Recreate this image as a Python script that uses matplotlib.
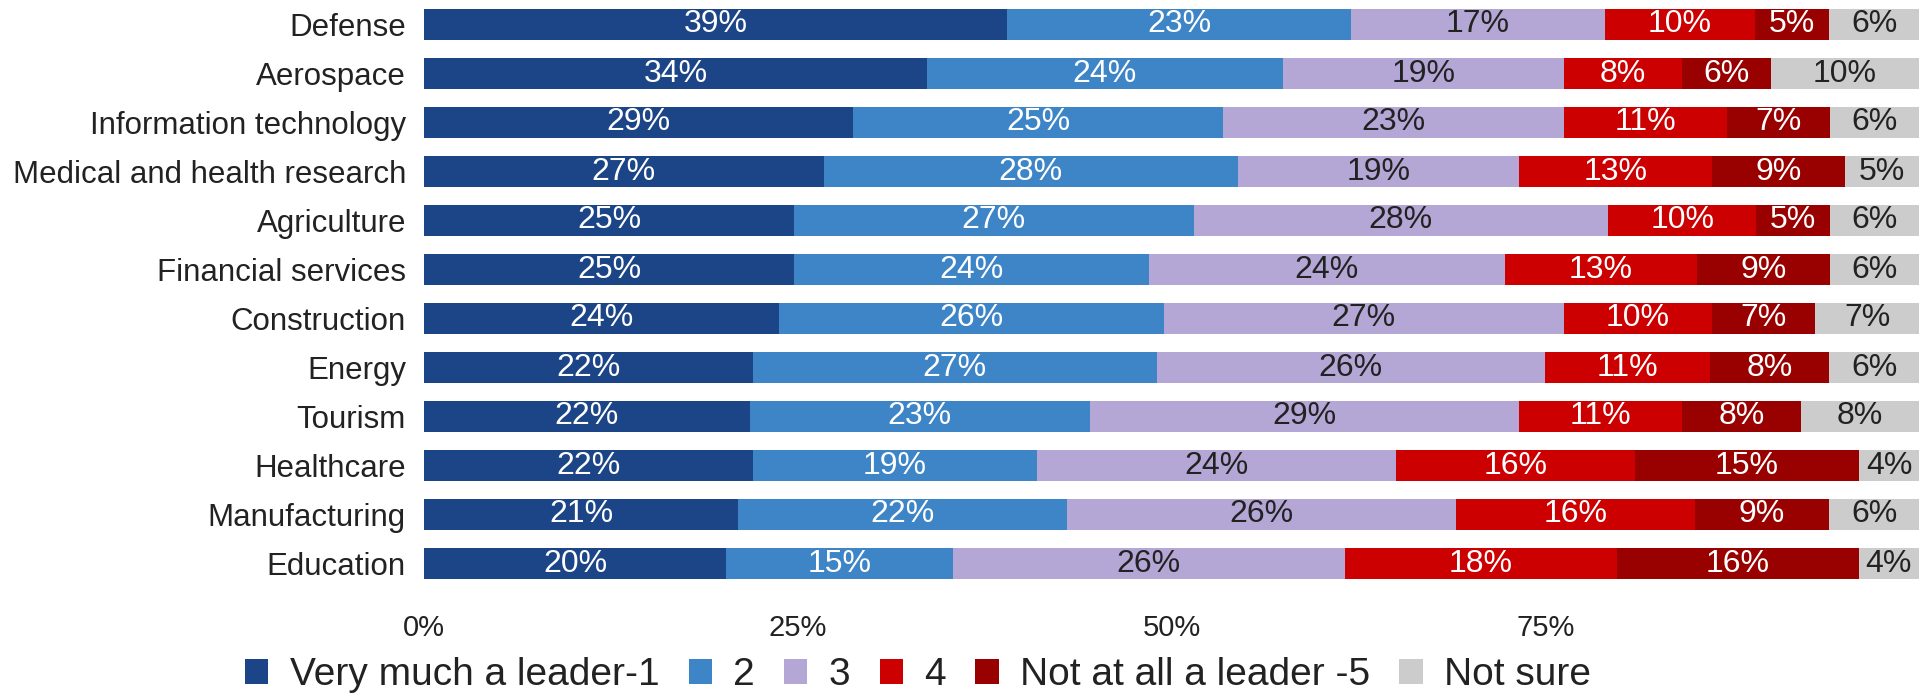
import numpy as np
import matplotlib.pyplot as plt
from matplotlib.patches import Patch

plt.rcParams['font.family'] = ['Liberation Sans', 'DejaVu Sans']

# Data
sectors = ["Defense", "Aerospace", "Information technology", "Medical and health research",
           "Agriculture", "Financial services", "Construction", "Energy", "Tourism",
           "Healthcare", "Manufacturing", "Education"]
leader_1 = [39, 34, 29, 27, 25, 25, 24, 22, 22, 22, 21, 20]
level_2 = [23, 24, 25, 28, 27, 24, 26, 27, 23, 19, 22, 15]
level_3 = [17, 19, 23, 19, 28, 24, 27, 26, 29, 24, 26, 26]
level_4 = [10, 8, 11, 13, 10, 13, 10, 11, 11, 16, 16, 18]
not_leader_5 = [5, 6, 7, 9, 5, 9, 7, 8, 8, 15, 9, 16]
not_sure = [6, 10, 6, 5, 6, 6, 7, 6, 8, 4, 6, 4]

series_names = ["Very much a leader-1", "2", "3", "4", "Not at all a leader -5", "Not sure"]
colors = ["#1c4587", "#3d85c6", "#b4a7d6", "#cc0000", "#990000", "#cccccc"]
text_colors = ["white", "white", "#222222", "white", "white", "#222222"]

values = np.array([leader_1, level_2, level_3, level_4, not_leader_5, not_sure], dtype=float)
# 100% stacked: each row scaled to its total
shares = values / values.sum(axis=0)

fig = plt.figure(figsize=(19.28, 6.95), dpi=100)
ax = fig.add_axes([424 / 1928, 1 - 588 / 695, (1919 - 424) / 1928, 588 / 695])

y = np.arange(len(sectors))
left = np.zeros(len(sectors))
for i in range(len(series_names)):
    ax.barh(y, shares[i], left=left, height=0.63, color=colors[i], linewidth=0)
    for j in range(len(sectors)):
        ax.text(left[j] + shares[i][j] / 2, y[j], f"{int(values[i][j])}%",
                ha="center", va="center", color=text_colors[i], fontsize=23)
    left += shares[i]

ax.set_xlim(0, 1)
ax.set_ylim(len(sectors) - 0.5, -0.5)
ax.set_yticks(y)
ax.set_yticklabels(sectors, fontsize=22.5, color="#222222")
ax.set_xticks([0, 0.25, 0.5, 0.75])
ax.set_xticklabels(["0%", "25%", "50%", "75%"], fontsize=21, color="#222222")
ax.tick_params(axis="y", length=0, pad=13)
ax.tick_params(axis="x", length=0, pad=19)
for s in ax.spines.values():
    s.set_visible(False)

handles = [Patch(facecolor=c, edgecolor="none") for c in colors]
fig.legend(handles, series_names, loc="center left", bbox_to_anchor=(245 / 1928, 1 - 675 / 695),
           ncol=6, frameon=False, fontsize=28, handlelength=0.6, handleheight=0.6,
           handletextpad=0.55, columnspacing=0.75, borderpad=0, borderaxespad=0,
           labelcolor="#222222")

plt.savefig("out.png", dpi=100)
